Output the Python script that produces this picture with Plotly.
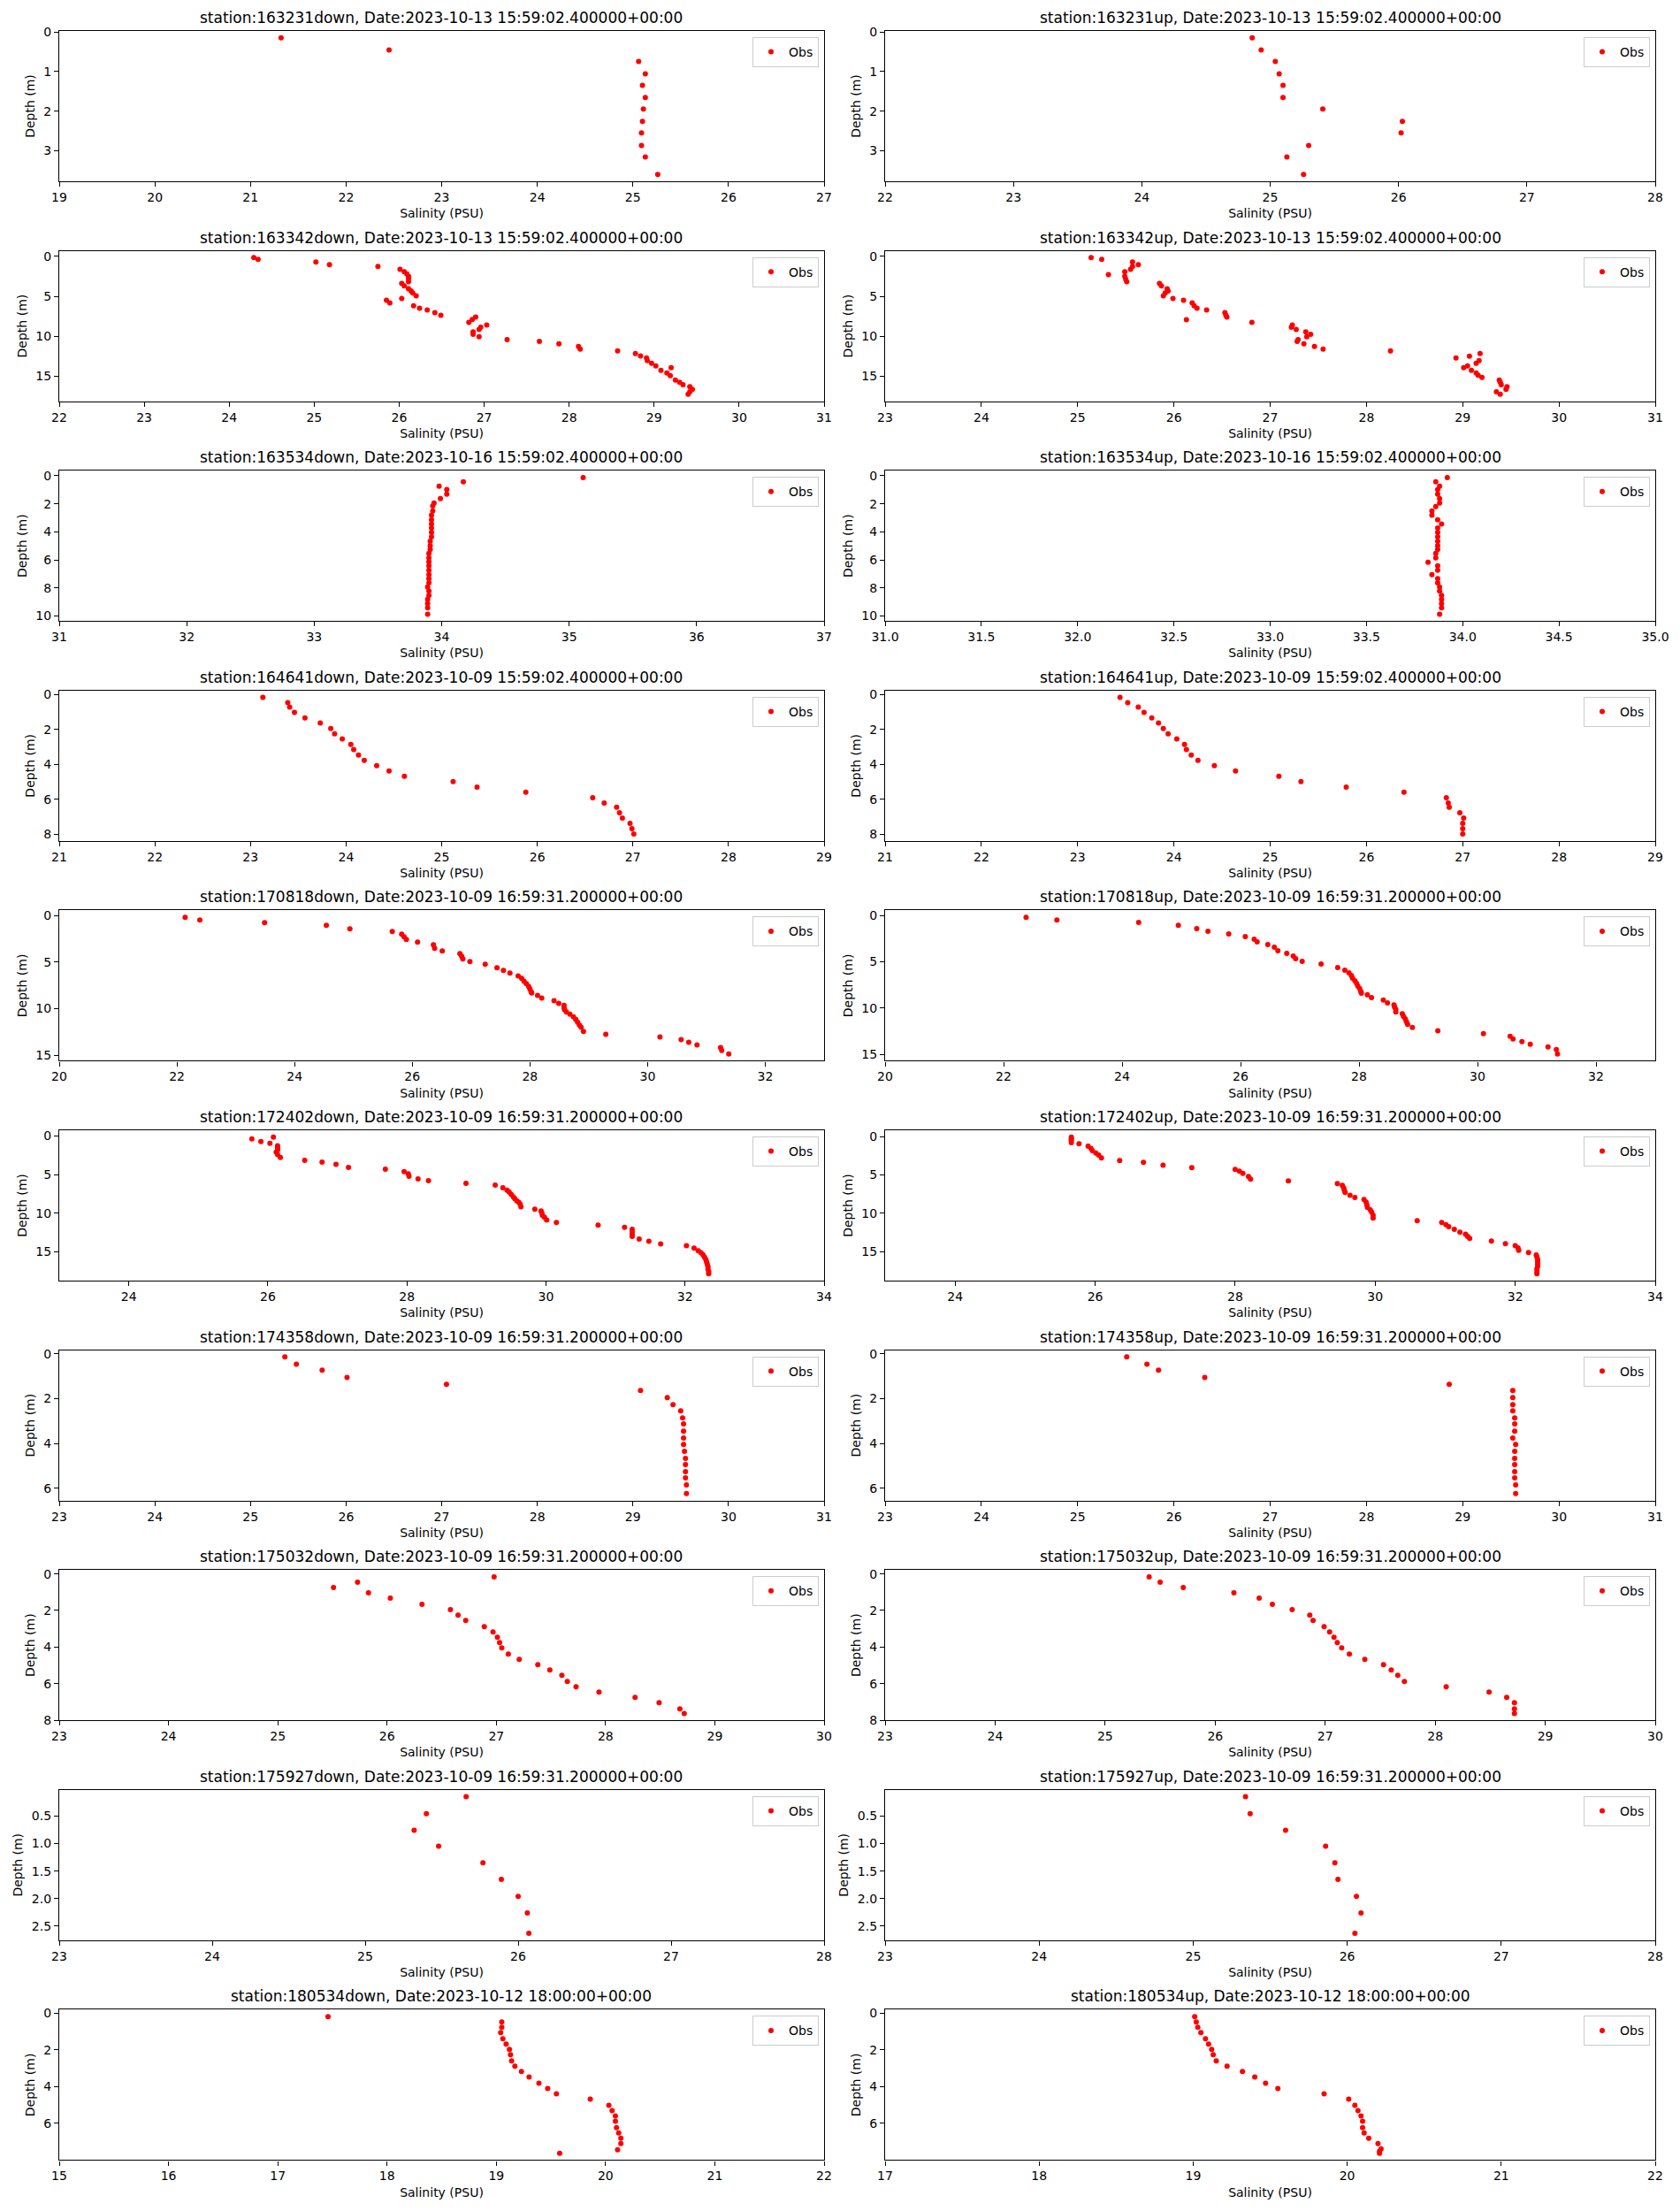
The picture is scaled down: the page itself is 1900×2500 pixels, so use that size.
import plotly.graph_objects as go

# salinity (PSU) and depth (m) read per cast
sal_163231down = [21.32, 22.45, 25.06, 25.13, 25.10, 25.13, 25.11, 25.10, 25.09, 25.09, 25.13, 25.26]
dep_163231down = [0.15, 0.46, 0.75, 1.06, 1.35, 1.66, 1.95, 2.26, 2.55, 2.87, 3.16, 3.60]
sal_163231up = [24.86, 24.93, 25.04, 25.07, 25.10, 25.10, 25.41, 26.03, 26.02, 25.30, 25.13, 25.26]
dep_163231up = [0.15, 0.46, 0.75, 1.06, 1.35, 1.66, 1.95, 2.26, 2.55, 2.87, 3.16, 3.60]

sal_163342down = [24.29, 24.34, 25.02, 25.18, 25.75, 26.01, 26.06, 26.09, 26.11, 26.11, 26.11, 26.03,
                  26.06, 26.11, 26.14, 26.16, 26.20, 26.03, 25.85, 25.89, 26.17, 26.24, 26.33, 26.42,
                  26.49, 26.90, 26.86, 26.82, 27.03, 26.96, 26.94, 26.87, 26.87, 26.94, 27.27, 27.65,
                  27.88, 28.11, 28.13, 28.57, 28.78, 28.84, 28.91, 28.92, 28.97, 29.02, 29.20, 29.08,
                  29.15, 29.19, 29.25, 29.30, 29.34, 29.42, 29.45, 29.42, 29.40]
dep_163342down = [0.15, 0.37, 0.71, 1.04, 1.26, 1.60, 1.93, 2.19, 2.49, 2.78, 3.16, 3.38,
                  3.68, 4.05, 4.34, 4.57, 4.94, 5.27, 5.50, 5.83, 6.20, 6.50, 6.72, 7.06,
                  7.39, 7.61, 7.91, 8.28, 8.61, 8.87, 9.17, 9.47, 9.77, 10.06, 10.43, 10.66,
                  10.95, 11.29, 11.62, 11.85, 12.18, 12.48, 12.74, 13.07, 13.40, 13.74, 13.96, 14.30,
                  14.63, 14.96, 15.52, 15.78, 16.08, 16.34, 16.67, 16.97, 17.30]
sal_163342up = [25.14, 25.25, 25.57, 25.63, 25.57, 25.55, 25.49, 25.32, 25.49, 25.50, 25.51, 25.85,
                25.87, 25.93, 25.94, 25.91, 25.89, 25.99, 26.10, 26.19, 26.21, 26.24, 26.34, 26.53,
                26.54, 26.55, 26.13, 26.81, 27.23, 27.22, 27.27, 27.37, 27.42, 27.38, 27.29, 27.28,
                27.35, 27.46, 27.55, 28.25, 29.18, 29.07, 28.93, 29.17, 29.14, 29.05, 29.01, 29.09,
                29.14, 29.16, 29.20, 29.38, 29.39, 29.40, 29.46, 29.45, 29.35, 29.39]
dep_163342up = [0.15, 0.37, 0.71, 1.04, 1.26, 1.60, 1.93, 2.27, 2.49, 2.86, 3.16, 3.38,
                3.68, 4.05, 4.34, 4.57, 4.94, 5.27, 5.50, 5.83, 6.20, 6.50, 6.72, 7.06,
                7.39, 7.61, 7.95, 8.28, 8.61, 8.87, 9.17, 9.47, 9.77, 10.06, 10.43, 10.66,
                10.95, 11.29, 11.62, 11.85, 12.18, 12.51, 12.74, 13.07, 13.40, 13.74, 13.96, 14.30,
                14.63, 14.89, 15.19, 15.52, 15.78, 16.08, 16.34, 16.67, 16.97, 17.30]

sal_163534down = [35.11, 34.17, 33.98, 34.04, 34.04, 33.99, 33.94, 33.93, 33.93, 33.92, 33.92,
                  33.92, 33.92, 33.92, 33.92, 33.91, 33.91, 33.91, 33.90, 33.90, 33.90, 33.90,
                  33.90, 33.90, 33.90, 33.90, 33.89, 33.90, 33.90, 33.89, 33.89, 33.89, 33.89]
dep_163534down = [0.13, 0.44, 0.75, 0.98, 1.32, 1.63, 1.95, 2.15, 2.51, 2.82, 3.14,
                  3.45, 3.72, 4.04, 4.35, 4.67, 4.98, 5.25, 5.54, 5.86, 6.13, 6.42,
                  6.74, 7.05, 7.34, 7.64, 7.93, 8.22, 8.54, 8.81, 9.12, 9.41, 9.87]
sal_163534up = [33.92, 33.86, 33.88, 33.87, 33.87, 33.88, 33.88, 33.86, 33.84, 33.84, 33.87,
                33.89, 33.87, 33.87, 33.87, 33.87, 33.87, 33.87, 33.86, 33.86, 33.82, 33.87,
                33.87, 33.84, 33.87, 33.87, 33.88, 33.88, 33.89, 33.89, 33.89, 33.89, 33.88]
dep_163534up = [0.13, 0.44, 0.75, 0.98, 1.32, 1.63, 1.95, 2.20, 2.51, 2.82, 3.14,
                3.45, 3.72, 4.04, 4.35, 4.67, 4.98, 5.25, 5.54, 5.86, 6.17, 6.42,
                6.74, 7.05, 7.34, 7.64, 7.93, 8.22, 8.54, 8.81, 9.12, 9.41, 9.87]

sal_164641down = [23.13, 23.39, 23.41, 23.46, 23.57, 23.73, 23.84, 23.88, 23.96, 24.05, 24.08, 24.13,
                  24.19, 24.32, 24.45, 24.61, 25.12, 25.37, 25.88, 26.58, 26.70, 26.83, 26.86, 26.89,
                  26.97, 26.99, 27.01]
dep_164641down = [0.17, 0.47, 0.73, 1.03, 1.34, 1.64, 1.95, 2.25, 2.55, 2.86, 3.16, 3.47,
                  3.77, 4.08, 4.38, 4.69, 4.99, 5.30, 5.60, 5.91, 6.21, 6.46, 6.77, 7.07,
                  7.38, 7.68, 7.99]
sal_164641up = [23.44, 23.52, 23.63, 23.69, 23.77, 23.84, 23.89, 23.94, 24.03, 24.11, 24.13, 24.18,
                24.25, 24.42, 24.64, 25.09, 25.32, 25.79, 26.39, 26.83, 26.85, 26.86, 26.97, 27.01,
                27.00, 27.00, 27.00]
dep_164641up = [0.17, 0.47, 0.73, 1.03, 1.34, 1.64, 1.95, 2.25, 2.55, 2.86, 3.16, 3.47,
                3.77, 4.08, 4.38, 4.69, 4.99, 5.30, 5.60, 5.91, 6.21, 6.46, 6.77, 7.07,
                7.38, 7.68, 7.99]

sal_170818down = [22.14, 22.39, 23.49, 24.54, 24.94, 25.66, 25.82, 25.86, 25.90, 26.09, 26.36, 26.38,
                  26.51, 26.81, 26.84, 26.86, 26.98, 27.24, 27.44, 27.55, 27.66, 27.80, 27.86, 27.90,
                  27.94, 27.98, 28.00, 28.02, 28.03, 28.13, 28.20, 28.41, 28.49, 28.58, 28.58, 28.59,
                  28.62, 28.68, 28.74, 28.78, 28.81, 28.84, 28.87, 28.91, 29.29, 30.21, 30.57, 30.70,
                  30.84, 31.24, 31.26, 31.38]
dep_170818down = [0.19, 0.48, 0.76, 1.05, 1.43, 1.71, 2.00, 2.29, 2.57, 2.86, 3.14, 3.52,
                  3.81, 4.10, 4.38, 4.67, 4.95, 5.24, 5.62, 5.90, 6.19, 6.48, 6.76, 7.05,
                  7.33, 7.62, 7.90, 8.19, 8.32, 8.57, 8.86, 9.14, 9.43, 9.65, 9.90, 10.13,
                  10.35, 10.60, 10.89, 11.17, 11.46, 11.75, 12.00, 12.44, 12.76, 13.05, 13.33, 13.62,
                  13.90, 14.19, 14.48, 14.86]
sal_170818up = [22.38, 22.90, 24.28, 24.95, 25.26, 25.45, 25.80, 26.08, 26.23, 26.28, 26.46, 26.57,
                26.63, 26.78, 26.89, 26.93, 27.04, 27.36, 27.64, 27.76, 27.83, 27.87, 27.89, 27.93,
                27.96, 27.98, 28.01, 28.03, 28.04, 28.14, 28.21, 28.41, 28.48, 28.59, 28.60, 28.62,
                28.62, 28.73, 28.75, 28.78, 28.80, 28.82, 28.90, 29.33, 30.10, 30.55, 30.60, 30.75,
                30.89, 31.19, 31.33, 31.35]
dep_170818up = [0.19, 0.48, 0.76, 1.05, 1.43, 1.71, 2.00, 2.29, 2.57, 2.86, 3.14, 3.43,
                3.81, 4.10, 4.38, 4.67, 4.95, 5.24, 5.62, 5.90, 6.19, 6.48, 6.76, 7.05,
                7.33, 7.62, 7.90, 8.19, 8.38, 8.57, 8.86, 9.14, 9.43, 9.65, 9.90, 10.13,
                10.41, 10.60, 10.89, 11.17, 11.46, 11.75, 12.10, 12.44, 12.76, 13.05, 13.33, 13.62,
                13.90, 14.19, 14.48, 14.95]

sal_172402down = [26.08, 25.77, 25.90, 26.03, 26.14, 26.14, 26.14, 26.12, 26.14, 26.18, 26.53, 26.78,
                  26.98, 27.16, 27.69, 27.96, 28.02, 28.03, 28.16, 28.31, 28.85, 29.27, 29.38, 29.44,
                  29.47, 29.50, 29.53, 29.55, 29.58, 29.61, 29.63, 29.64, 29.84, 29.93, 29.94, 29.95,
                  29.98, 30.01, 30.15, 30.75, 31.13, 31.24, 31.24, 31.24, 31.24, 31.34, 31.48, 31.65,
                  32.02, 32.13, 32.19, 32.23, 32.26, 32.28, 32.30, 32.31, 32.32, 32.33, 32.33, 32.34,
                  32.34]
dep_172402down = [0.15, 0.38, 0.73, 0.96, 1.27, 1.54, 1.81, 2.11, 2.42, 2.80, 3.15, 3.38,
                  3.69, 4.07, 4.30, 4.61, 4.92, 5.22, 5.57, 5.80, 6.15, 6.38, 6.72, 7.03,
                  7.26, 7.57, 7.88, 8.11, 8.41, 8.61, 8.87, 9.18, 9.49, 9.72, 9.99, 10.30,
                  10.56, 10.91, 11.22, 11.56, 11.83, 12.10, 12.41, 12.72, 13.02, 13.37, 13.64, 13.98,
                  14.21, 14.52, 14.87, 15.14, 15.41, 15.71, 16.02, 16.33, 16.63, 16.94, 17.25, 17.56,
                  17.86]
sal_172402up = [25.66, 25.66, 25.66, 25.66, 25.77, 25.90, 25.94, 25.96, 26.01, 26.05, 26.09, 26.35,
                26.69, 26.97, 27.38, 28.00, 28.06, 28.11, 28.19, 28.22, 28.76, 29.46, 29.53, 29.55,
                29.56, 29.57, 29.64, 29.71, 29.84, 29.87, 29.88, 29.89, 29.93, 29.95, 29.97, 29.97,
                30.60, 30.95, 31.01, 31.05, 31.13, 31.21, 31.29, 31.32, 31.35, 31.66, 31.86, 32.00,
                32.04, 32.05, 32.19, 32.30, 32.31, 32.32, 32.32, 32.32, 32.32, 32.31, 32.31, 32.31]
dep_172402up = [0.08, 0.27, 0.50, 0.81, 0.96, 1.27, 1.54, 1.84, 2.15, 2.42, 2.80, 3.15,
                3.38, 3.73, 4.07, 4.30, 4.53, 4.80, 5.22, 5.57, 5.80, 6.15, 6.38, 6.72,
                7.03, 7.30, 7.65, 7.95, 8.22, 8.57, 8.91, 9.26, 9.57, 9.87, 10.26, 10.64,
                10.99, 11.22, 11.49, 11.76, 12.10, 12.49, 12.75, 13.02, 13.29, 13.64, 13.98, 14.25,
                14.52, 14.83, 15.14, 15.44, 15.71, 16.02, 16.33, 16.63, 16.94, 17.25, 17.60, 17.90]

sal_174358down = [25.36, 25.48, 25.75, 26.01, 27.05, 29.08, 29.36, 29.42, 29.50, 29.52, 29.53,
                  29.53, 29.53, 29.53, 29.54, 29.55, 29.55, 29.55, 29.55, 29.56, 29.56]
dep_174358down = [0.14, 0.46, 0.73, 1.05, 1.36, 1.64, 1.95, 2.27, 2.54, 2.86, 3.13,
                  3.45, 3.76, 4.04, 4.35, 4.67, 4.94, 5.26, 5.53, 5.85, 6.24]
sal_174358up = [25.51, 25.72, 25.84, 26.32, 28.86, 29.52, 29.52, 29.52, 29.52, 29.54, 29.54,
                29.54, 29.52, 29.55, 29.54, 29.54, 29.54, 29.54, 29.54, 29.55, 29.55]
dep_174358up = [0.14, 0.46, 0.73, 1.05, 1.36, 1.64, 1.95, 2.27, 2.54, 2.86, 3.13,
                3.45, 3.76, 4.04, 4.35, 4.67, 4.94, 5.26, 5.53, 5.85, 6.24]

sal_175032down = [26.98, 25.73, 25.51, 25.83, 26.03, 26.32, 26.58, 26.65, 26.72, 26.89, 26.97, 27.01,
                  27.03, 27.05, 27.11, 27.21, 27.38, 27.49, 27.60, 27.65, 27.73, 27.94, 28.27, 28.49,
                  28.68, 28.72]
dep_175032down = [0.16, 0.45, 0.74, 1.03, 1.32, 1.66, 1.95, 2.25, 2.54, 2.88, 3.17, 3.46,
                  3.75, 4.04, 4.38, 4.67, 4.96, 5.25, 5.54, 5.88, 6.17, 6.46, 6.75, 7.04,
                  7.38, 7.63]
sal_175032up = [25.40, 25.50, 25.71, 26.17, 26.40, 26.52, 26.70, 26.86, 26.89, 26.99, 27.04, 27.08,
                27.11, 27.15, 27.22, 27.36, 27.53, 27.60, 27.66, 27.72, 28.10, 28.49, 28.65, 28.72,
                28.72, 28.72]
dep_175032up = [0.16, 0.45, 0.74, 1.03, 1.32, 1.66, 1.95, 2.25, 2.54, 2.88, 3.17, 3.46,
                3.75, 4.04, 4.38, 4.67, 4.96, 5.25, 5.54, 5.88, 6.17, 6.46, 6.75, 7.04,
                7.38, 7.63]

sal_175927down = [25.66, 25.40, 25.32, 25.48, 25.77, 25.89, 26.00, 26.06, 26.07]
dep_175927down = [0.15, 0.46, 0.76, 1.05, 1.35, 1.65, 1.96, 2.26, 2.63]
sal_175927up = [25.34, 25.37, 25.60, 25.86, 25.92, 25.94, 26.06, 26.09, 26.05]
dep_175927up = [0.15, 0.46, 0.76, 1.05, 1.35, 1.65, 1.96, 2.26, 2.63]

sal_180534down = [17.46, 19.05, 19.05, 19.04, 19.06, 19.09, 19.12, 19.13, 19.14, 19.17, 19.23, 19.30,
                  19.39, 19.47, 19.55, 19.86, 20.03, 20.06, 20.09, 20.09, 20.10, 20.12, 20.14, 20.14,
                  20.11, 19.58]
dep_180534down = [0.18, 0.47, 0.76, 1.05, 1.39, 1.68, 1.97, 2.26, 2.60, 2.89, 3.18, 3.47,
                  3.81, 4.10, 4.39, 4.68, 5.02, 5.31, 5.60, 5.89, 6.23, 6.52, 6.81, 7.10,
                  7.44, 7.63]
sal_180534up = [19.01, 19.02, 19.03, 19.05, 19.08, 19.10, 19.12, 19.13, 19.15, 19.22, 19.32, 19.40,
                19.47, 19.55, 19.85, 20.01, 20.05, 20.07, 20.09, 20.10, 20.10, 20.11, 20.14, 20.20,
                20.22, 20.21, 20.21]
dep_180534up = [0.18, 0.47, 0.76, 1.05, 1.39, 1.68, 1.97, 2.26, 2.60, 2.89, 3.18, 3.47,
                3.81, 4.10, 4.39, 4.68, 5.02, 5.31, 5.60, 5.89, 6.23, 6.52, 6.81, 7.10,
                7.39, 7.53, 7.63]

# cast name, date, salinity limits, salinity ticks, depth ticks
panels = [
    ("163231down", "2023-10-13 15:59:02.400000+00:00", sal_163231down, dep_163231down, [19, 27], list(range(19, 28)), [0, 1, 2, 3]),
    ("163231up", "2023-10-13 15:59:02.400000+00:00", sal_163231up, dep_163231up, [22, 28], list(range(22, 29)), [0, 1, 2, 3]),
    ("163342down", "2023-10-13 15:59:02.400000+00:00", sal_163342down, dep_163342down, [22, 31], list(range(22, 32)), [0, 5, 10, 15]),
    ("163342up", "2023-10-13 15:59:02.400000+00:00", sal_163342up, dep_163342up, [23, 31], list(range(23, 32)), [0, 5, 10, 15]),
    ("163534down", "2023-10-16 15:59:02.400000+00:00", sal_163534down, dep_163534down, [31, 37], list(range(31, 38)), [0, 2, 4, 6, 8, 10]),
    ("163534up", "2023-10-16 15:59:02.400000+00:00", sal_163534up, dep_163534up, [31, 35], [31.0, 31.5, 32.0, 32.5, 33.0, 33.5, 34.0, 34.5, 35.0], [0, 2, 4, 6, 8, 10]),
    ("164641down", "2023-10-09 15:59:02.400000+00:00", sal_164641down, dep_164641down, [21, 29], list(range(21, 30)), [0, 2, 4, 6, 8]),
    ("164641up", "2023-10-09 15:59:02.400000+00:00", sal_164641up, dep_164641up, [21, 29], list(range(21, 30)), [0, 2, 4, 6, 8]),
    ("170818down", "2023-10-09 16:59:31.200000+00:00", sal_170818down, dep_170818down, [20, 33], list(range(20, 33, 2)), [0, 5, 10, 15]),
    ("170818up", "2023-10-09 16:59:31.200000+00:00", sal_170818up, dep_170818up, [20, 33], list(range(20, 33, 2)), [0, 5, 10, 15]),
    ("172402down", "2023-10-09 16:59:31.200000+00:00", sal_172402down, dep_172402down, [23, 34], list(range(24, 35, 2)), [0, 5, 10, 15]),
    ("172402up", "2023-10-09 16:59:31.200000+00:00", sal_172402up, dep_172402up, [23, 34], list(range(24, 35, 2)), [0, 5, 10, 15]),
    ("174358down", "2023-10-09 16:59:31.200000+00:00", sal_174358down, dep_174358down, [23, 31], list(range(23, 32)), [0, 2, 4, 6]),
    ("174358up", "2023-10-09 16:59:31.200000+00:00", sal_174358up, dep_174358up, [23, 31], list(range(23, 32)), [0, 2, 4, 6]),
    ("175032down", "2023-10-09 16:59:31.200000+00:00", sal_175032down, dep_175032down, [23, 30], list(range(23, 31)), [0, 2, 4, 6, 8]),
    ("175032up", "2023-10-09 16:59:31.200000+00:00", sal_175032up, dep_175032up, [23, 30], list(range(23, 31)), [0, 2, 4, 6, 8]),
    ("175927down", "2023-10-09 16:59:31.200000+00:00", sal_175927down, dep_175927down, [23, 28], list(range(23, 29)), [0.5, 1.0, 1.5, 2.0, 2.5]),
    ("175927up", "2023-10-09 16:59:31.200000+00:00", sal_175927up, dep_175927up, [23, 28], list(range(23, 29)), [0.5, 1.0, 1.5, 2.0, 2.5]),
    ("180534down", "2023-10-12 18:00:00+00:00", sal_180534down, dep_180534down, [15, 22], list(range(15, 23)), [0, 2, 4, 6]),
    ("180534up", "2023-10-12 18:00:00+00:00", sal_180534up, dep_180534up, [17, 22], list(range(17, 23)), [0, 2, 4, 6]),
]

W, H = 1900, 2500
col_px = [(67, 932), (1001, 1872)]
row_top0, row_pitch, row_h = 35, 248.6, 170
font = "DejaVu Sans"

fig = go.Figure()
annotations = []
layout = {}

for k, (name, date, sal, dep, xlim, xticks, yticks) in enumerate(panels):
    row, col = divmod(k, 2)
    n = k + 1
    sfx = "" if n == 1 else str(n)
    left, right = col_px[col]
    top = row_top0 + row_pitch * row
    bottom = top + row_h
    xdom = [left / W, right / W]
    ydom = [1 - bottom / H, 1 - top / H]

    legend_name = "legend" if n == 1 else f"legend{n}"
    fig.add_trace(go.Scatter(
        x=sal, y=dep, mode="markers", name="Obs",
        marker=dict(color="red", size=6),
        xaxis=f"x{sfx}", yaxis=f"y{sfx}", legend=legend_name,
    ))

    pad = 0.05 * (max(dep) - min(dep))
    xfmt = ".1f" if any(isinstance(t, float) for t in xticks) else None
    yfmt = ".1f" if any(isinstance(t, float) and t % 1 for t in yticks) else None

    axis_common = dict(
        showgrid=False, zeroline=False, showline=True, mirror=True, automargin=False,
        linecolor="black", linewidth=1.2, ticks="outside", ticklen=5,
        tickwidth=1, tickcolor="black",
        tickfont=dict(family=font, size=14, color="black"),
    )
    layout[f"xaxis{sfx}"] = dict(
        axis_common, domain=xdom, anchor=f"y{sfx}", range=xlim,
        tickvals=xticks, tickformat=xfmt,
        title=dict(text="Salinity (PSU)", font=dict(family=font, size=14, color="black"), standoff=6),
    )
    layout[f"yaxis{sfx}"] = dict(
        axis_common, domain=ydom, anchor=f"x{sfx}",
        range=[max(dep) + pad, min(dep) - pad],
        tickvals=yticks, tickformat=yfmt,
        title=dict(text="Depth (m)", font=dict(family=font, size=14, color="black"), standoff=6),
    )
    layout[legend_name] = dict(
        x=(right - 6) / W, y=1 - (top + 7) / H, xanchor="right", yanchor="top",
        bgcolor="rgba(255,255,255,0.8)", bordercolor="#cccccc", borderwidth=1,
        font=dict(family=font, size=14, color="black"), itemwidth=30,
    )
    annotations.append(dict(
        text=f"station:{name}, Date:{date}", x=(left + right) / 2 / W, y=1 - top / H,
        xref="paper", yref="paper", xanchor="center", yanchor="bottom", yshift=3,
        showarrow=False, font=dict(family=font, size=17, color="black"),
    ))

fig.update_layout(
    width=W, height=H, margin=dict(l=0, r=0, t=0, b=0, autoexpand=False),
    paper_bgcolor="white", plot_bgcolor="white", showlegend=True,
    annotations=annotations, **layout,
)

# drop the browser's default page margin so the figure sits at (0, 0)
fig.write_html(
    "out.html",
    config={"displayModeBar": False},
    post_script="document.body.style.margin='0';",
)
